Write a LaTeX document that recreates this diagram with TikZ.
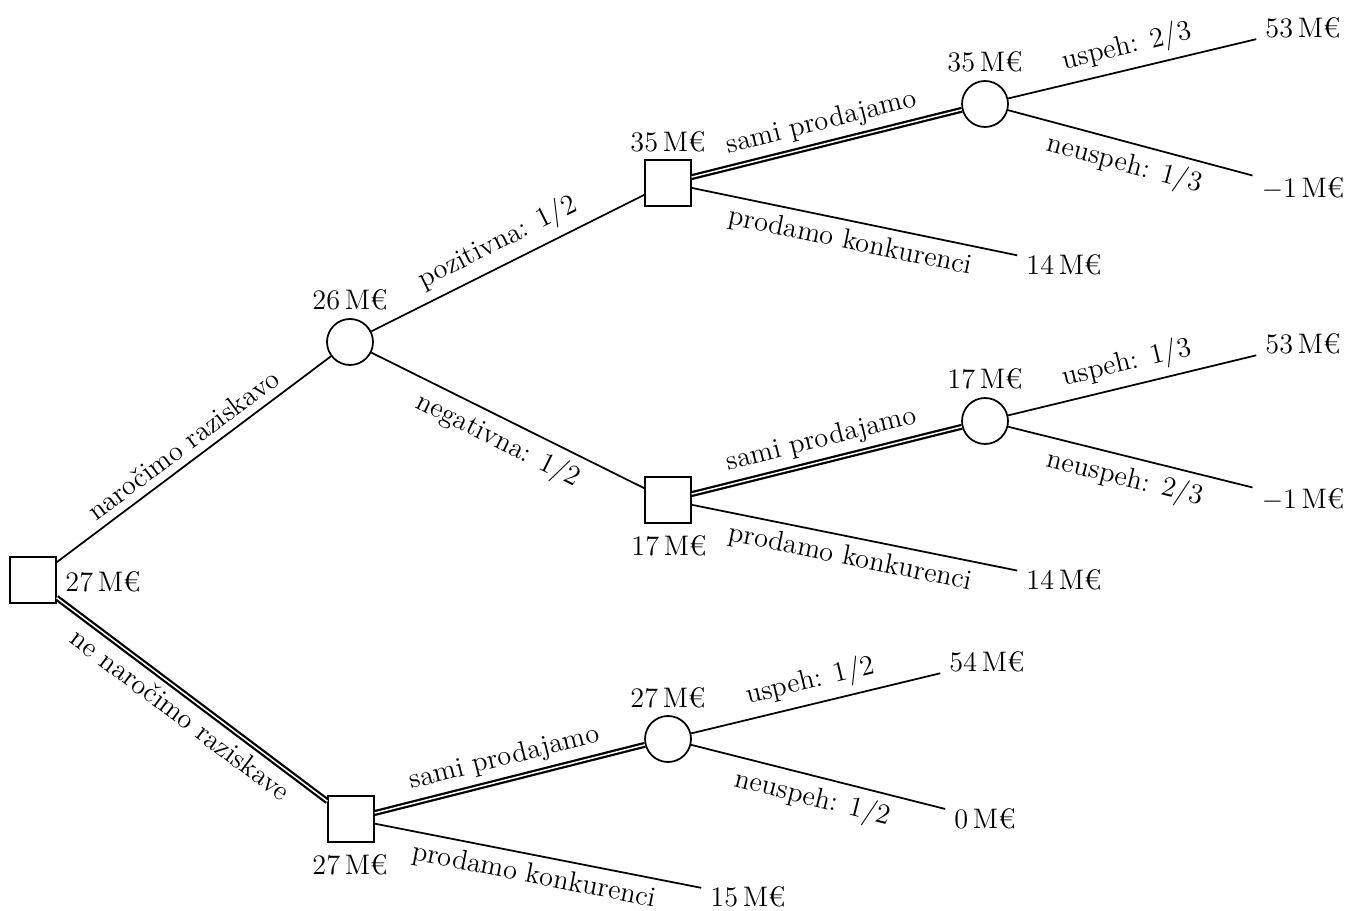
\documentclass[tikz,border=0pt]{standalone}
\usepackage{fontspec}
\begin{document}
\begin{tikzpicture}[x=0.4pt,y=-0.4pt,
  font=\fontsize{11.3}{13}\selectfont,
  dec/.style={draw, line width=0.7pt, minimum size=18.2pt, inner sep=0pt, fill=white},
  chance/.style={draw, circle, line width=0.7pt, minimum size=18.4pt, inner sep=0pt, fill=white},
  term/.style={inner sep=3.5pt},
  val/.style={inner sep=0pt},
  br/.style={line width=0.7pt},
  best/.style={double, line width=0.9pt, double distance=0.6pt},
  lab/.style={sloped, midway, inner sep=3pt}
]
\useasboundingbox (0,0) rectangle (1347,911);

% decision and chance nodes
\node[dec] (r) at (33,580) {};
\node[chance] (c1) at (350,342) {};
\node[dec] (d1) at (668,183) {};
\node[chance] (c2) at (985,104) {};
\node[dec] (d2) at (668,500) {};
\node[chance] (c3) at (985,421) {};
\node[dec] (d3) at (351,819) {};
\node[chance] (c4) at (668,739) {};

% values at nodes
\node[val] (vr) at (103,582) {27\,M€};
\node[val] (v1) at (350,300) {26\,M€};
\node[val] (vd1) at (668,142) {35\,M€};
\node[val] (vc2) at (985,62) {35\,M€};
\node[val] (vd2) at (669,546) {17\,M€};
\node[val] (vc3) at (985,379) {17\,M€};
\node[val] (vd3) at (350,865) {27\,M€};
\node[val] (vc4) at (668,698) {27\,M€};

% terminal values
\node[term] (t1) at (1303,28) {53\,M€};
\node[term] (t2) at (1303,189) {$-$1\,M€};
\node[term] (t3) at (1064,265) {14\,M€};
\node[term] (t4) at (1303,344) {53\,M€};
\node[term] (t5) at (1303,500) {$-$1\,M€};
\node[term] (t6) at (1064,580) {14\,M€};
\node[term] (t7) at (987,662) {54\,M€};
\node[term] (t8) at (985,819) {0\,M€};
\node[term] (t9) at (748,897) {15\,M€};

% branches
\draw[br] (r) -- node[lab, above] {naročimo raziskavo} (c1);
\draw[best] (r) -- node[lab, below] {ne naročimo raziskave} (d3);

\draw[br] (c1) -- node[lab, above] {pozitivna: 1/2} (d1);
\draw[br] (c1) -- node[lab, below] {negativna: 1/2} (d2);

\draw[best] (d1) -- node[lab, above] {sami prodajamo} (c2);
\draw[br] (d1) -- node[lab, below] {prodamo konkurenci} (t3);
\draw[br] (c2) -- node[lab, above] {uspeh: 2/3} (t1);
\draw[br] (c2) -- node[lab, below] {neuspeh: 1/3} (t2);

\draw[best] (d2) -- node[lab, above] {sami prodajamo} (c3);
\draw[br] (d2) -- node[lab, below] {prodamo konkurenci} (t6);
\draw[br] (c3) -- node[lab, above] {uspeh: 1/3} (t4);
\draw[br] (c3) -- node[lab, below] {neuspeh: 2/3} (t5);

\draw[best] (d3) -- node[lab, above] {sami prodajamo} (c4);
\draw[br] (d3) -- node[lab, below] {prodamo konkurenci} (t9);
\draw[br] (c4) -- node[lab, above] {uspeh: 1/2} (t7);
\draw[br] (c4) -- node[lab, below] {neuspeh: 1/2} (t8);
\end{tikzpicture}
\end{document}
